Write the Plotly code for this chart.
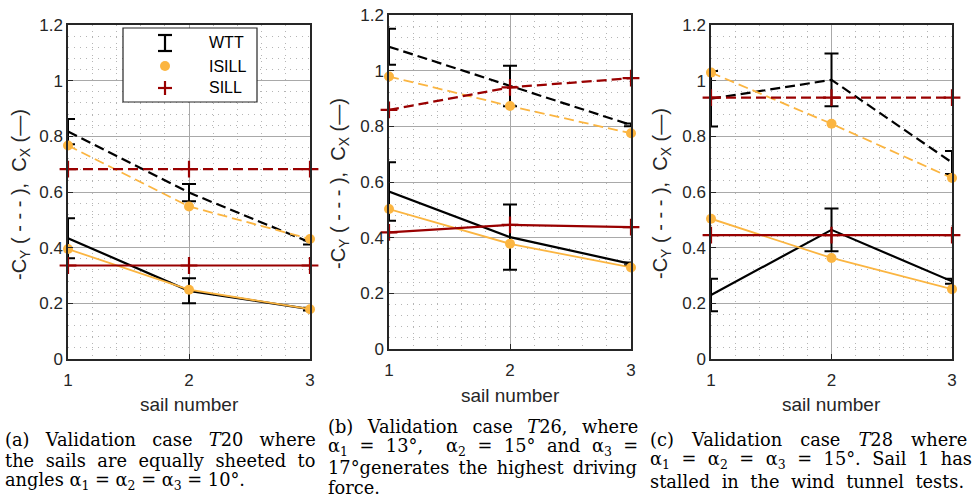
import plotly.graph_objects as go

W, H = 976, 499

sails = [1, 2, 3]
x_ticks = [1, 2, 3]
y_ticks = [0, 0.2, 0.4, 0.6, 0.8, 1, 1.2]

# ---- panel (a): T20 ----
a_wtt_cy = [0.817, 0.598, 0.419]
a_wtt_cy_err = [0.045, 0.031, 0.008]
a_wtt_cx = [0.434, 0.245, 0.179]
a_wtt_cx_err = [0.072, 0.045, 0.005]
a_isill_cy = [0.767, 0.548, 0.431]
a_isill_cx = [0.395, 0.249, 0.179]
a_sill_cy = [0.682, 0.682, 0.682]
a_sill_cx = [0.336, 0.336, 0.336]

# ---- panel (b): T26 ----
b_wtt_cy = [1.086, 0.945, 0.805]
b_wtt_cy_err = [0.065, 0.073, 0.005]
b_wtt_cx = [0.566, 0.402, 0.306]
b_wtt_cx_err = [0.105, 0.117, 0.005]
b_isill_cy = [0.979, 0.873, 0.775]
b_isill_cx = [0.503, 0.378, 0.293]
b_sill_cy = [0.859, 0.940, 0.973]
b_sill_cx = [0.419, 0.446, 0.438]

# ---- panel (c): T28 ----
c_wtt_cy = [0.935, 1.003, 0.706]
c_wtt_cy_err = [0.100, 0.095, 0.041]
c_wtt_cx = [0.230, 0.464, 0.279]
c_wtt_cx_err = [0.058, 0.077, 0.009]
c_isill_cy = [1.029, 0.845, 0.650]
c_isill_cx = [0.504, 0.363, 0.251]
c_sill_cy = [0.939, 0.939, 0.939]
c_sill_cx = [0.445, 0.445, 0.445]

legend_labels = ["WTT", "ISILL", "SILL"]
y_title = "-C<sub>Y</sub> ( - - - ),  C<sub>X</sub> (—)"
x_title = "sail number"

captions = [
    ["(a) Validation case <i>T</i>20 where",
     "the sails are equally sheeted to",
     "angles α<sub>1</sub> = α<sub>2</sub> = α<sub>3</sub> = 10°."],
    ["(b) Validation case <i>T</i>26, where",
     "α<sub>1</sub> = 13°,  α<sub>2</sub> = 15° and α<sub>3</sub> =",
     "17°generates the highest driving",
     "force."],
    ["(c) Validation case <i>T</i>28 where",
     "α<sub>1</sub> = α<sub>2</sub> = α<sub>3</sub> = 15°. Sail 1 has",
     "stalled in the wind tunnel tests."],
]

EN, THIN, HAIR, THREE, FOUR = "\u2002", "\u2009", "\u200a", "\u2004", "\u2005"
# extra word spacing used to imitate LaTeX justified lines
caption_spacing = [
    [EN + HAIR, THREE, ""],
    [EN, THREE, THIN, ""],
    [EN + THIN, THREE, THREE],
]

BLACK = "#000000"
YELLOW = "#FBB541"
RED = "#990000"
AXC = "#262626"
DASH = "10px,5px"
SANS = "Liberation Sans, Arial, sans-serif"


def fx(px):
    return px / W


def fy(py):
    return 1 - py / H


def justify(txt, extra):
    return txt.replace(" ", " " + extra) if extra else txt


# panel pixel boxes: (left, right, top, bottom)
boxes = [(68, 310, 25, 359), (389, 631, 15, 349), (711, 952, 25, 359)]
panels = [
    (a_wtt_cy, a_wtt_cy_err, a_wtt_cx, a_wtt_cx_err, a_isill_cy, a_isill_cx, a_sill_cy, a_sill_cx),
    (b_wtt_cy, b_wtt_cy_err, b_wtt_cx, b_wtt_cx_err, b_isill_cy, b_isill_cx, b_sill_cy, b_sill_cx),
    (c_wtt_cy, c_wtt_cy_err, c_wtt_cx, c_wtt_cx_err, c_isill_cy, c_isill_cx, c_sill_cy, c_sill_cx),
]

fig = go.Figure()
layout = dict(
    width=W, height=H, margin=dict(l=0, r=0, t=0, b=0, autoexpand=False),
    paper_bgcolor="white", plot_bgcolor="white", showlegend=False,
    font=dict(family=SANS, color=AXC),
)
annotations = []
shapes = []

for i, (p, box) in enumerate(zip(panels, boxes)):
    wcy, wcye, wcx, wcxe, icy, icx, scy, scx = p
    sfx = "" if i == 0 else str(i + 1)
    xa, ya = "x" + sfx, "y" + sfx
    common = dict(xaxis=xa, yaxis=ya, x=sails, cliponaxis=False, showlegend=False)
    # WTT
    fig.add_trace(go.Scatter(**common, y=wcy, mode="lines", name="WTT",
                             line=dict(color=BLACK, width=2.2, dash=DASH),
                             error_y=dict(type="data", array=wcye, color=BLACK, thickness=2, width=7)))
    fig.add_trace(go.Scatter(**common, y=wcx, mode="lines", name="WTT",
                             line=dict(color=BLACK, width=2.2),
                             error_y=dict(type="data", array=wcxe, color=BLACK, thickness=2, width=7)))
    # ISILL
    fig.add_trace(go.Scatter(**common, y=icy, mode="lines+markers", name="ISILL",
                             line=dict(color=YELLOW, width=1.8, dash=DASH),
                             marker=dict(color=YELLOW, size=10)))
    fig.add_trace(go.Scatter(**common, y=icx, mode="lines+markers", name="ISILL",
                             line=dict(color=YELLOW, width=1.8),
                             marker=dict(color=YELLOW, size=10)))
    # SILL
    fig.add_trace(go.Scatter(**common, y=scy, mode="lines+markers", name="SILL",
                             line=dict(color=RED, width=2.2, dash=DASH),
                             marker=dict(symbol="cross-thin", size=12, line=dict(color=RED, width=2.2))))
    fig.add_trace(go.Scatter(**common, y=scx, mode="lines+markers", name="SILL",
                             line=dict(color=RED, width=2.2),
                             marker=dict(symbol="cross-thin", size=12, line=dict(color=RED, width=2.2))))

    l, r, t, b = box
    layout["xaxis" + sfx] = dict(
        domain=[fx(l), fx(r)], anchor=ya, range=[1, 3], tickvals=x_ticks,
        showgrid=True, gridcolor="#a9a9a9", gridwidth=1,
        minor=dict(dtick=0.2, tick0=1, showgrid=True, gridcolor="#b5b5b5", griddash="1px,5px", gridwidth=1),
        showline=True, linecolor=AXC, linewidth=1.5, mirror=True,
        ticks="inside", ticklen=5, tickcolor=AXC, ticklabelstandoff=5,
        tickfont=dict(family=SANS, size=17, color=AXC), zeroline=False, layer="above traces",
    )
    layout["yaxis" + sfx] = dict(
        domain=[fy(b), fy(t)], anchor=xa, range=[0, 1.2], tickvals=y_ticks,
        showgrid=True, gridcolor="#a9a9a9", gridwidth=1,
        minor=dict(dtick=0.04, tick0=0, showgrid=True, gridcolor="#b5b5b5", griddash="1px,5px", gridwidth=1),
        showline=True, linecolor=AXC, linewidth=1.5, mirror=True,
        ticks="inside", ticklen=5, tickcolor=AXC, ticklabelstandoff=0,
        tickfont=dict(family=SANS, size=17, color=AXC), zeroline=False, layer="above traces",
    )

# axis titles
ytitle_pos = [(20, 195), (340, 184), (662, 194)]
xtitle_pos = [(189, 404), (510, 395), (831, 404)]
for (px, py) in ytitle_pos:
    annotations.append(dict(xref="paper", yref="paper", x=fx(px), y=fy(py), text=y_title,
                            textangle=-90, showarrow=False, xanchor="center", yanchor="middle",
                            font=dict(family=SANS, size=20, color=AXC)))
for (px, py) in xtitle_pos:
    annotations.append(dict(xref="paper", yref="paper", x=fx(px), y=fy(py), text=x_title,
                            showarrow=False, xanchor="center", yanchor="middle",
                            font=dict(family=SANS, size=19, color=AXC)))

# legend (panel a)
shapes.append(dict(type="rect", xref="paper", yref="paper", x0=fx(123), x1=fx(257), y0=fy(102), y1=fy(28),
                   line=dict(color=AXC, width=1.2), fillcolor="white", layer="above"))
sx = 165
shapes.append(dict(type="line", xref="paper", yref="paper", x0=fx(sx), x1=fx(sx), y0=fy(51), y1=fy(35),
                   line=dict(color=BLACK, width=2.2), layer="above"))
for cy in (35, 51):
    shapes.append(dict(type="line", xref="paper", yref="paper", x0=fx(sx - 7), x1=fx(sx + 7), y0=fy(cy), y1=fy(cy),
                       line=dict(color=BLACK, width=2.2), layer="above"))
shapes.append(dict(type="circle", xref="paper", yref="paper", x0=fx(sx - 5), x1=fx(sx + 5), y0=fy(71), y1=fy(61),
                   line=dict(color=YELLOW, width=0), fillcolor=YELLOW, layer="above"))
shapes.append(dict(type="line", xref="paper", yref="paper", x0=fx(sx - 7), x1=fx(sx + 7), y0=fy(88), y1=fy(88),
                   line=dict(color=RED, width=2.2), layer="above"))
shapes.append(dict(type="line", xref="paper", yref="paper", x0=fx(sx), x1=fx(sx), y0=fy(81), y1=fy(95),
                   line=dict(color=RED, width=2.2), layer="above"))
for lab, py in zip(legend_labels, (43, 66, 88)):
    annotations.append(dict(xref="paper", yref="paper", x=fx(207), y=fy(py), text=lab, showarrow=False,
                            xanchor="left", yanchor="middle", font=dict(family=SANS, size=16, color=BLACK)))

# captions
cap_pos = [(3, [439, 460, 481]), (326, [426, 447, 467, 487]), (648, [439, 460, 481])]
for lines, extras, (px, ys) in zip(captions, caption_spacing, cap_pos):
    for txt, ex, py in zip(lines, extras, ys):
        annotations.append(dict(xref="paper", yref="paper", x=fx(px), y=fy(py), text=justify(txt, ex),
                                showarrow=False, xanchor="left", yanchor="middle",
                                font=dict(family="DejaVu Serif, serif", size=17.8, color=BLACK)))

layout["annotations"] = annotations
layout["shapes"] = shapes
fig.update_layout(**layout)
fig.write_html("out.html")
